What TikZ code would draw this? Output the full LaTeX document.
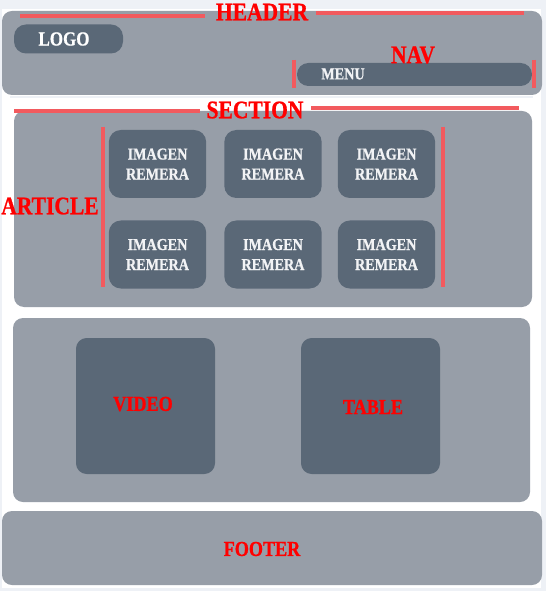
\documentclass[tikz,border=0pt]{standalone}
\usepackage{fontspec}
\newfontfamily\tagfont[FakeStretch=0.85, BoldFeatures={FakeBold=0.8}]{Liberation Serif}

\definecolor{pagebg}{HTML}{EEF1F6}
\definecolor{panelgray}{HTML}{979EA8}
\definecolor{slate}{HTML}{5A6877}
\definecolor{markred}{HTML}{F25A5E}
\definecolor{tagred}{HTML}{FF0000}
\definecolor{cardtext}{HTML}{F2F3F5}

\tikzset{
  panel/.style={fill=panelgray, rounded corners=7.5pt},
  block/.style={fill=slate, rounded corners=8pt},
  marker/.style={draw=markred, line width=3pt},
  tag/.style={text=tagred, inner sep=0pt, font=\tagfont\bfseries\fontsize{19}{19}\selectfont},
  smalltag/.style={text=tagred, inner sep=0pt, font=\tagfont\bfseries\fontsize{16}{16}\selectfont},
  card/.style={fill=slate, rounded corners=9pt, minimum width=73pt, minimum height=51pt,
    align=center, text=cardtext, font=\tagfont\bfseries\fontsize{12.5}{15}\selectfont},
}

\begin{document}
\begin{tikzpicture}[x=0.75pt, y=-0.75pt]
  \useasboundingbox (0,0) rectangle (546,591);
  \fill[pagebg] (0,0) rectangle (546,591);
  \fill[white] (2,9) rectangle (541,588);
  \draw[pagebg, line width=1pt] (10,97) -- (533,97);

  % header
  \fill[panel] (2,11) rectangle (542,95);
  \draw[marker] (20,16) -- (205,16);
  \draw[marker] (316,13) -- (524,13);
  \node[tag] (header) at (262,12) {HEADER};
  \node[block, minimum width=81.75pt, minimum height=21.75pt, rounded corners=9pt] (logo) at (68.5,39) {};
  \node[inner sep=0pt, text=white, font=\tagfont\bfseries\fontsize{15}{15}\selectfont] (logotext) at (64,39) {LOGO};

  % nav
  \node[block, minimum width=176.25pt, minimum height=17.25pt, rounded corners=8.5pt] (menu) at (414.5,74.5) {};
  \node[inner sep=0pt, text=cardtext, font=\tagfont\bfseries\fontsize{12.5}{12.5}\selectfont] (menutext) at (343,74) {MENU};
  \draw[marker] (294,60) -- (294,88);
  \draw[marker] (534,60) -- (534,88);
  \node[tag] (nav) at (413,55) {NAV};

  % section
  \fill[panel] (14,111) rectangle (532,307);
  \draw[marker] (14,111) -- (200,111);
  \draw[marker] (311,108) -- (519,108);
  \node[tag] (section) at (255,110) {SECTION};

  % article
  \draw[marker] (103,127) -- (103,287);
  \draw[marker] (442.5,127) -- (442.5,287);
  \node[tag] (article) at (50,206) {ARTICLE};
  \foreach \col/\x in {1/157.5, 2/273, 3/386.5}
    \foreach \row/\y in {1/164, 2/254.5}
      \node[card] (card-\row-\col) at (\x,\y) {IMAGEN\\REMERA};

  % video and table
  \fill[panel] (13,318) rectangle (530,502);
  \fill[block] (76,338) rectangle (215,474);
  \fill[block] (301,338) rectangle (440,474);
  \node[smalltag] (video) at (143,404) {VIDEO};
  \node[smalltag] (table) at (373,407) {TABLE};

  % footer
  \fill[panel] (2,511) rectangle (542,585);
  \node[smalltag] (footer) at (262,549) {FOOTER};
\end{tikzpicture}
\end{document}
